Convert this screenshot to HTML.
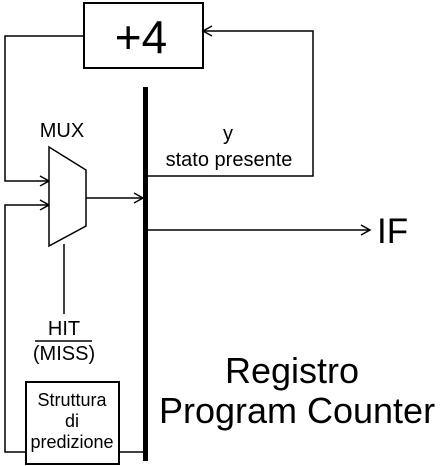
<!DOCTYPE html>
<html><head><style>html,body{margin:0;padding:0;background:#fff}svg{display:block}text{font-family:"Liberation Sans",sans-serif;fill:#000}</style></head>
<body>
<svg width="447" height="466" viewBox="0 0 447 466" xmlns="http://www.w3.org/2000/svg">
<g stroke="#000" fill="none" stroke-width="1.5">
<rect x="84" y="3" width="119" height="65" stroke-width="2"/>
<polyline points="84,36 5,36 5,181 49,181"/>
<polyline points="40,176 49,181 40,186"/>
<polyline points="26,452 5,452 5,205 49,205"/>
<polyline points="40,200 49,205 40,210"/>
<polygon points="49,147 86,170 86,226 49,246" fill="#fff"/>
<line x1="86" y1="198" x2="143" y2="198"/>
<polyline points="134,193 143,198 134,203"/>
<line x1="64" y1="244" x2="64" y2="314"/>
<polyline points="148,176 313,176 313,31 203,31"/>
<polyline points="212,26 203,31 212,36"/>
<line x1="148" y1="230" x2="370" y2="230"/>
<polyline points="361,225 370,230 361,235"/>
<rect x="26" y="382" width="93" height="82" stroke-width="2"/>
<line x1="119" y1="452" x2="145" y2="452"/>
<line x1="35" y1="341" x2="92" y2="341"/>
</g>
<rect x="143" y="87" width="5" height="374" fill="#000"/>
<text x="141" y="53" font-size="46" text-anchor="middle">+4</text>
<text x="62" y="137" font-size="20" text-anchor="middle">MUX</text>
<text x="228" y="140" font-size="20" text-anchor="middle">y</text>
<text x="229" y="166" font-size="20" text-anchor="middle">stato presente</text>
<text x="377" y="243" font-size="35">IF</text>
<text x="64" y="335" font-size="20" text-anchor="middle">HIT</text>
<text x="64" y="360" font-size="20" text-anchor="middle">(MISS)</text>
<text x="72" y="406" font-size="18" text-anchor="middle">Struttura</text>
<text x="72" y="427" font-size="18" text-anchor="middle">di</text>
<text x="72" y="448" font-size="18" text-anchor="middle">predizione</text>
<text x="292" y="383" font-size="36" text-anchor="middle">Registro</text>
<text x="297" y="423" font-size="36" text-anchor="middle">Program Counter</text>
</svg>
</body></html>
